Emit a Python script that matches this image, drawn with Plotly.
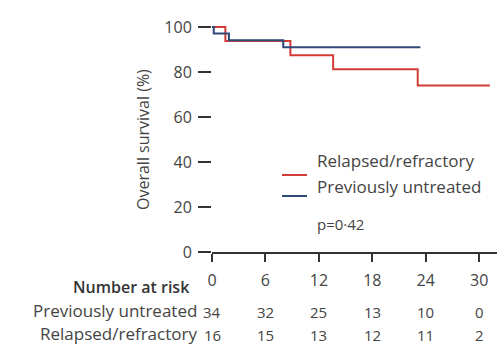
import plotly.graph_objects as go

# Kaplan-Meier step data (months, overall survival %)
untreated_t = [0, 0.2, 1.9, 8.0, 23.4]
untreated_s = [100, 97.1, 94.1, 91.0, 91.0]
relapsed_t = [0, 1.5, 8.8, 13.6, 23.1, 31.2]
relapsed_s = [100, 93.75, 87.5, 81.25, 74.0, 74.0]

x_ticks = [0, 6, 12, 18, 24, 30]
y_ticks = [0, 20, 40, 60, 80, 100]
risk_untreated = [34, 32, 25, 13, 10, 0]
risk_relapsed = [16, 15, 13, 12, 11, 2]

RED = "#d23c36"
BLUE = "#2f4a78"
TXT = "#444444"
FONT = "Open Sans"

W, H = 497, 363
ML, MR, MT, MB = 212, 0, 16, 111
PW, PH = W - ML - MR, H - MT - MB

def px_x(p):
    return (p - ML) / PW

def px_y(p):
    return (H - MB - p) / PH

fig = go.Figure()
fig.add_trace(go.Scatter(x=relapsed_t, y=relapsed_s, mode="lines",
                         line=dict(color=RED, width=2, shape="hv"),
                         name="Relapsed/refractory", showlegend=False, cliponaxis=False))
fig.add_trace(go.Scatter(x=untreated_t, y=untreated_s, mode="lines",
                         line=dict(color=BLUE, width=2, shape="hv"),
                         name="Previously untreated", showlegend=False, cliponaxis=False))

ann = []
shapes = []
# y-axis title
ann.append(dict(text="Overall survival (%)", x=px_x(143), y=px_y(140), xref="paper", yref="paper",
                xanchor="center", yanchor="middle",
                textangle=-90, showarrow=False, font=dict(family=FONT, size=16, color=TXT)))
# legend
leg = [("Relapsed/refractory", RED, 175, 174), ("Previously untreated", BLUE, 196, 200)]
for name, col, ly, ty in leg:
    shapes.append(dict(type="line", xref="paper", yref="paper", x0=px_x(282), x1=px_x(307),
                       y0=px_y(ly), y1=px_y(ly), line=dict(color=col, width=2)))
    ann.append(dict(text=name, x=px_x(315), y=px_y(ty), xref="paper", yref="paper", xanchor="left",
                    showarrow=False, font=dict(family=FONT, size=17, color=TXT)))
ann.append(dict(text="p=0·42", x=px_x(315), y=px_y(236), xref="paper", yref="paper", xanchor="left",
                showarrow=False, font=dict(family=FONT, size=15, color=TXT)))
# number at risk table
ann.append(dict(text="Number at risk", x=px_x(192), y=px_y(300), xref="paper", yref="paper",
                xanchor="right", showarrow=False,
                font=dict(family=FONT, size=16, color="#333", weight=600)))
rows = [("Previously untreated", risk_untreated, 324), ("Relapsed/refractory", risk_relapsed, 347)]
for lab, vals, ry in rows:
    ann.append(dict(text=lab, x=px_x(199), y=px_y(ry), xref="paper", yref="paper", xanchor="right",
                    showarrow=False, font=dict(family=FONT, size=17, color=TXT)))
    for xv, v in zip(x_ticks, vals):
        ann.append(dict(text=str(v), x=xv, y=px_y(ry), xref="x", yref="paper", xanchor="center",
                        showarrow=False, font=dict(family=FONT, size=15, color=TXT)))

fig.update_layout(
    width=W, height=H, margin=dict(l=ML, r=MR, t=MT, b=MB),
    paper_bgcolor="white", plot_bgcolor="white",
    annotations=ann, shapes=shapes, showlegend=False,
    xaxis=dict(range=[0, 32], tickvals=x_ticks, showgrid=False, zeroline=False,
               showline=True, linecolor="#333", linewidth=1.5,
               ticks="outside", ticklen=8, tickwidth=1.5, tickcolor="#333",
               ticklabelstandoff=5, tickfont=dict(family=FONT, size=16, color=TXT)),
    yaxis=dict(range=[0, PH / 2.25], tickvals=y_ticks, showgrid=False, zeroline=False,
               showline=False, ticks="outside", ticklen=13, tickwidth=1.5, tickcolor="#333",
               ticklabelstandoff=3, tickfont=dict(family=FONT, size=16, color=TXT)),
)

fig.write_html("out.html")
